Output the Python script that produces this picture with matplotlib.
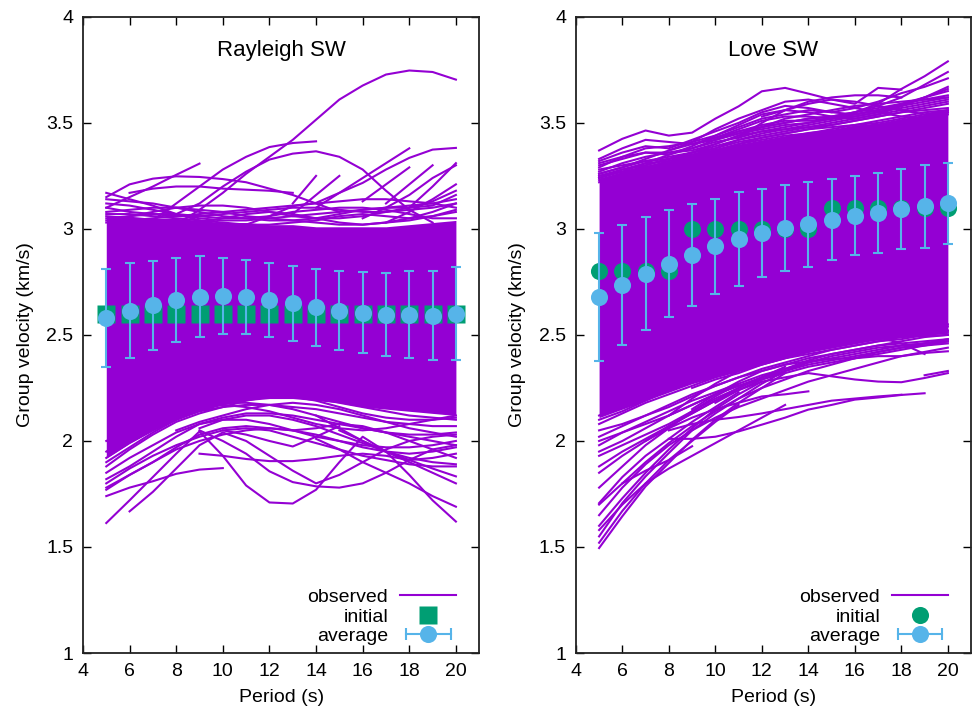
import numpy as np
import matplotlib
matplotlib.use("Agg")
import matplotlib.pyplot as plt
from matplotlib.lines import Line2D
from matplotlib.legend_handler import HandlerLine2D, HandlerTuple
from matplotlib.ticker import FormatStrFormatter

plt.rcParams['font.family'] = ['Liberation Sans', 'DejaVu Sans']
plt.rcParams['font.size'] = 14

PURPLE = '#9400D3'
GREEN = '#009E73'
BLUE = '#56B4E9'

periods = [5, 6, 7, 8, 9, 10, 11, 12, 13, 14, 15, 16, 17, 18, 19, 20]
N = None

# ---- Rayleigh ----
rayleigh_initial = [2.6, 2.6, 2.6, 2.6, 2.6, 2.6, 2.6, 2.6, 2.6, 2.6, 2.6, 2.6, 2.6, 2.6, 2.6, 2.6]
rayleigh_average = [2.58, 2.615, 2.64, 2.665, 2.68, 2.685, 2.68, 2.665, 2.65, 2.63, 2.615, 2.605, 2.595, 2.595, 2.59, 2.60]
rayleigh_std = [0.23, 0.225, 0.21, 0.20, 0.19, 0.18, 0.175, 0.175, 0.177, 0.18, 0.185, 0.19, 0.195, 0.205, 0.21, 0.22]
# the dense core of the observed curves (envelope)
rayleigh_core_high = [3.06, 3.06, 3.05, 3.05, 3.04, 3.03, 3.03, 3.02, 3.02, 3.01, 3.01, 3.01, 3.01, 3.02, 3.03, 3.04]
rayleigh_core_low = [1.92, 1.99, 2.05, 2.10, 2.14, 2.17, 2.19, 2.20, 2.20, 2.19, 2.18, 2.16, 2.15, 2.14, 2.13, 2.12]
# individual observed curves outside the core
rayleigh_curves = [
    [N, N, N, 3.02, 3.09, 3.17, 3.26, 3.34, 3.42, 3.515, 3.61, 3.676, 3.728, 3.747, 3.74, 3.704],
    [N, N, 3.04, 3.12, 3.20, 3.28, 3.34, 3.386, 3.405, 3.413, N, N, N, N, N, N],
    [N, N, N, 3.07, 3.12, 3.20, 3.27, 3.327, 3.355, 3.366, 3.34, 3.28, 3.18, 3.09, 3.03, N],
    [N, N, N, N, N, N, 3.02, 3.06, 3.107, 3.123, 3.17, 3.217, 3.28, 3.335, 3.374, 3.382],
    [3.15, 3.21, 3.237, 3.248, 3.245, 3.235, 3.22, 3.19, 3.16, 3.12, 3.08, N, N, N, N, N],
    [3.10, 3.15, 3.20, 3.255, 3.308, N, N, N, N, N, N, N, N, N, N, N],
    [N, 3.17, 3.19, 3.20, 3.20, 3.19, 3.185, 3.18, 3.17, N, N, N, N, N, N, N],
    [3.17, 3.14, 3.11, 3.07, 3.04, N, N, N, N, N, N, N, N, N, N, N],
    [N, N, N, N, N, N, N, N, N, 3.10, 3.17, 3.24, 3.31, 3.38, N, N],
    [N, N, N, N, N, N, N, N, 3.12, 3.25, N, N, N, N, N, N],
    [N, N, N, N, N, N, N, N, 3.07, 3.16, 3.25, N, N, N, N, N],
    [N, N, N, N, N, N, N, N, N, N, N, 3.13, 3.21, 3.29, N, N],
    [N, N, N, N, N, N, N, N, N, N, N, N, 3.12, 3.21, 3.30, N],
    [N, N, N, N, N, N, N, N, N, N, N, N, N, 3.10, 3.20, 3.31],
    [N, N, N, N, N, N, N, N, N, N, N, 3.05, 3.10, 3.16, 3.24, 3.30],
    [N, N, N, N, N, N, N, N, N, N, N, N, 3.03, 3.08, 3.14, 3.21],
    [3.10, 3.08, 3.07, 3.06, 3.06, 3.07, 3.08, 3.09, 3.10, 3.10, 3.09, 3.08, 3.08, 3.09, 3.10, 3.12],
    [3.08, 3.09, 3.10, 3.10, 3.09, 3.08, 3.06, 3.05, 3.04, 3.05, 3.07, 3.09, 3.10, 3.11, 3.12, 3.14],
    [3.12, 3.11, 3.09, 3.07, 3.05, 3.04, 3.04, 3.05, 3.06, 3.07, 3.08, 3.09, 3.10, 3.10, 3.11, 3.16],
    [3.05, 3.06, 3.08, 3.10, 3.11, 3.11, 3.10, 3.08, 3.06, 3.05, 3.05, 3.06, 3.08, 3.10, 3.13, 3.18],
    [3.03, 3.04, 3.05, 3.06, 3.07, 3.08, 3.09, 3.10, 3.11, 3.12, 3.13, 3.14, 3.14, 3.13, 3.12, 3.10],
    [3.06, 3.05, 3.03, 3.02, 3.03, 3.05, 3.07, 3.08, 3.07, 3.05, 3.03, 3.02, 3.03, 3.05, 3.08, 3.12],
    [3.07, 3.07, 3.06, 3.05, 3.04, 3.03, 3.02, 3.02, 3.03, 3.04, 3.06, 3.07, 3.06, 3.05, 3.06, 3.08],
    [3.04, 3.06, 3.07, 3.07, 3.06, 3.05, 3.05, 3.06, 3.08, 3.09, 3.10, 3.10, 3.09, 3.07, 3.05, 3.05],
    [3.14, 3.13, 3.12, 3.10, 3.08, 3.06, 3.05, 3.04, 3.04, 3.03, 3.02, 3.02, 3.03, 3.04, 3.06, 3.09],
    # lower side
    [1.613, 1.72, 1.83, 1.94, 2.045, 1.93, 1.79, 1.71, 1.705, 1.77, 1.90, 2.02, 1.95, 1.84, 1.72, 1.62],
    [N, 1.668, 1.76, 1.87, 1.98, 2.04, 2.0, 1.93, 1.86, 1.80, 1.84, 1.90, 1.96, 2.0, 2.02, 2.03],
    [1.74, 1.78, 1.81, 1.845, 1.865, 1.872, N, N, N, N, N, N, N, N, N, N],
    [N, N, N, N, 1.94, 1.93, 1.915, 1.905, 1.905, 1.915, 1.93, 1.94, 1.93, 1.91, 1.92, 1.94],
    [N, N, N, N, 2.05, 2.0, 1.94, 1.857, 1.806, 1.786, 1.78, 1.80, 1.85, 1.91, 1.96, 1.98],
    [N, N, N, N, N, N, N, N, N, 2.01, 1.96, 1.90, 1.85, 1.80, 1.74, 1.69],
    [N, N, N, N, N, N, N, N, N, N, 2.05, 2.0, 1.95, 1.90, 1.85, 1.80],
    [N, N, N, N, N, 2.05, 2.03, 2.0, 1.974, 2.02, 2.07, N, N, N, N, N],
    [N, N, N, N, N, N, N, N, N, 2.12, 2.06, 2.0, 1.95, 1.91, 1.87, 1.833],
    [1.80, 1.87, 1.93, 1.98, 2.02, 2.05, 2.06, 2.05, 2.02, 1.99, 1.96, 1.93, 1.91, 1.89, 1.88, 1.88],
    [1.77, 1.84, 1.90, 1.96, 2.0, 2.03, 2.05, 2.06, 2.05, 2.03, 2.0, 1.97, 1.95, 1.94, 1.95, 1.97],
    [2.0, 2.05, 2.10, 2.14, 2.17, 2.18, 2.18, 2.17, 2.15, 2.12, 2.09, 2.06, 2.04, 2.03, 2.03, 2.04],
    [1.95, 2.02, 2.08, 2.13, 2.16, 2.17, 2.16, 2.14, 2.11, 2.08, 2.06, 2.05, 2.06, 2.08, 2.10, 2.11],
    [1.85, 1.92, 1.98, 2.04, 2.08, 2.11, 2.13, 2.13, 2.12, 2.10, 2.08, 2.06, 2.04, 2.02, 2.0, 1.98],
    [1.82, 1.88, 1.95, 2.02, 2.08, 2.10, 2.10, 2.08, 2.05, 2.02, 2.0, 1.98, 1.97, 1.97, 1.98, 2.0],
    [1.78, 1.84, 1.90, 1.97, 2.03, 2.06, 2.07, 2.06, 2.05, 2.06, 2.08, 2.07, 2.04, 2.0, 1.96, 1.92],
    [N, N, N, N, 2.06, 2.10, 2.12, 2.12, 2.10, 2.07, 2.03, 1.99, 1.95, 1.92, 1.90, 1.89],
    [1.92, 1.99, 2.05, 2.10, 2.14, 2.16, 2.17, 2.17, 2.16, 2.15, 2.13, 2.11, 2.09, 2.08, 2.07, 2.07],
    [1.88, 1.96, 2.03, 2.09, 2.13, 2.16, 2.19, 2.21, 2.21, 2.20, 2.18, 2.16, 2.14, 2.12, 2.11, 2.10],
    [1.90, 1.97, 2.04, 2.10, 2.15, 2.19, 2.21, 2.22, 2.21, 2.19, 2.16, 2.13, 2.11, 2.10, 2.10, 2.12],
    [N, N, N, 2.05, 2.09, 2.12, 2.15, 2.17, 2.18, 2.17, 2.15, 2.12, 2.09, 2.06, 2.04, 2.02],
]

# ---- Love ----
love_initial = [2.8, 2.8, 2.8, 2.8, 3.0, 3.0, 3.0, 3.0, 3.0, 3.0, 3.1, 3.1, 3.1, 3.1, 3.1, 3.1]
love_average = [2.679, 2.737, 2.789, 2.836, 2.877, 2.918, 2.953, 2.981, 3.003, 3.022, 3.044, 3.063, 3.075, 3.095, 3.106, 3.121]
love_std = [0.30, 0.283, 0.268, 0.252, 0.241, 0.224, 0.22, 0.209, 0.203, 0.20, 0.189, 0.186, 0.19, 0.188, 0.194, 0.19]
love_core_high = [3.24, 3.27, 3.30, 3.32, 3.35, 3.38, 3.40, 3.42, 3.44, 3.46, 3.47, 3.49, 3.50, 3.52, 3.54, 3.56]
love_core_low = [2.11, 2.15, 2.19, 2.23, 2.27, 2.30, 2.33, 2.36, 2.39, 2.42, 2.44, 2.46, 2.48, 2.49, 2.50, 2.51]
love_curves = [
    [3.37, 3.425, 3.464, 3.44, 3.454, 3.52, 3.578, 3.649, 3.665, 3.638, 3.61, 3.59, 3.665, 3.657, N, N],
    [N, N, N, N, 3.40, 3.43, 3.46, 3.48, 3.50, 3.52, 3.53, 3.55, 3.59, 3.66, 3.72, 3.79],
    [N, N, N, N, N, 3.42, 3.45, 3.47, 3.49, 3.50, 3.52, 3.55, 3.58, 3.62, 3.68, 3.74],
    [3.32, 3.36, 3.39, 3.38, 3.42, 3.46, 3.50, 3.55, 3.58, 3.57, 3.55, 3.57, 3.60, 3.64, 3.67, 3.71],
    [3.30, 3.33, 3.36, 3.35, 3.39, 3.44, 3.48, 3.52, 3.54, 3.56, 3.55, 3.54, 3.56, 3.59, 3.62, 3.66],
    [3.27, 3.31, 3.34, 3.36, 3.37, 3.40, 3.44, 3.48, 3.50, 3.52, 3.53, 3.55, 3.57, 3.59, 3.61, 3.63],
    [3.26, 3.29, 3.32, 3.34, 3.36, 3.38, 3.42, 3.45, 3.47, 3.49, 3.51, 3.53, 3.55, 3.57, 3.59, 3.61],
    [3.25, 3.28, 3.30, 3.33, 3.35, 3.37, 3.40, 3.43, 3.45, 3.47, 3.49, 3.51, 3.53, 3.55, 3.57, 3.59],
    [3.29, 3.34, 3.38, 3.39, 3.41, 3.44, 3.49, 3.54, 3.56, 3.59, 3.61, 3.60, 3.58, 3.56, 3.54, 3.56],
    [N, N, N, N, N, N, N, 3.53, 3.56, 3.60, 3.62, 3.63, 3.63, 3.62, N, N],
    [N, N, N, 3.37, 3.41, 3.47, 3.52, 3.56, 3.60, 3.61, 3.59, 3.57, 3.55, 3.53, 3.52, 3.55],
    [3.24, 3.27, 3.31, 3.35, 3.38, 3.41, 3.43, 3.46, 3.48, 3.50, 3.52, 3.54, 3.56, 3.58, 3.62, 3.67],
    [3.23, 3.26, 3.30, 3.33, 3.36, 3.39, 3.42, 3.44, 3.46, 3.48, 3.49, 3.51, 3.53, 3.55, 3.56, 3.57],
    [3.24, 3.28, 3.31, 3.32, 3.35, 3.38, 3.41, 3.43, 3.45, 3.47, 3.48, 3.49, 3.51, 3.53, 3.55, 3.56],
    [3.25, 3.27, 3.29, 3.31, 3.34, 3.37, 3.40, 3.42, 3.44, 3.45, 3.47, 3.49, 3.50, 3.52, 3.54, 3.55],
    [3.28, 3.30, 3.32, 3.33, 3.36, 3.40, 3.44, 3.46, 3.47, 3.48, 3.50, 3.52, 3.54, 3.56, 3.58, 3.60],
    [3.31, 3.34, 3.36, 3.36, 3.38, 3.42, 3.46, 3.49, 3.51, 3.51, 3.52, 3.54, 3.56, 3.58, 3.60, 3.62],
    [3.33, 3.38, 3.42, 3.41, 3.40, 3.43, 3.47, 3.51, 3.53, 3.53, 3.52, 3.53, 3.55, 3.58, 3.62, 3.65],
    [N, N, N, N, N, N, 3.43, 3.50, 3.56, 3.55, 3.53, 3.52, 3.54, 3.58, N, N],
    [3.26, 3.29, 3.33, 3.37, 3.40, 3.42, 3.45, 3.48, 3.52, 3.54, 3.56, 3.58, 3.59, 3.60, 3.61, 3.62],
    [3.22, 3.26, 3.29, 3.32, 3.34, 3.36, 3.38, 3.40, 3.42, 3.44, 3.46, 3.47, 3.49, 3.51, 3.53, 3.54],
    # lower side
    [1.495, 1.645, 1.786, 1.896, 2.006, 2.10, 2.18, 2.25, 2.32, N, N, N, N, N, N, N],
    [1.55, 1.707, 1.833, 1.943, 2.05, 2.13, 2.20, 2.27, 2.33, N, N, N, N, N, N, N],
    [1.60, 1.73, 1.85, 1.96, 2.06, 2.15, 2.22, 2.28, N, N, N, N, N, N, N, N],
    [1.707, 1.83, 1.93, 2.01, 2.09, 2.16, 2.23, N, N, N, N, N, N, N, N, N],
    [1.52, 1.67, 1.80, 1.91, 2.0, 2.09, 2.17, N, N, N, N, N, N, N, N, N],
    [1.58, 1.70, 1.80, 1.87, 1.93, 1.99, 2.05, 2.11, 2.17, N, N, N, N, N, N, N],
    [N, N, N, 2.01, 2.01, 2.02, 2.045, 2.077, 2.11, 2.148, 2.17, 2.195, 2.205, 2.217, 2.225, N],
    [N, N, N, 2.05, 2.08, 2.10, 2.113, 2.13, 2.15, 2.17, 2.19, 2.20, 2.21, 2.218, N, N],
    [N, N, N, N, N, 2.18, 2.24, 2.28, 2.30, 2.32, 2.305, 2.29, 2.28, 2.277, 2.297, 2.32],
    [N, N, N, N, N, N, N, N, N, N, N, N, N, N, 2.31, 2.33],
    [N, N, N, N, 2.15, 2.22, 2.28, 2.33, 2.36, 2.376, 2.387, 2.39, 2.40, 2.40, 2.415, 2.423],
    [N, N, N, 2.12, 2.20, 2.27, 2.33, 2.38, 2.42, 2.45, 2.46, 2.47, 2.48, 2.49, 2.495, 2.50],
    [N, N, 2.00, 2.06, 2.11, 2.15, 2.18, 2.21, 2.22, 2.234, N, N, N, N, N, N],
    [N, 1.80, 1.86, 1.91, 1.975, N, N, N, N, N, N, N, N, N, N, N],
    [1.78, 1.88, 1.98, 2.06, 2.14, 2.21, 2.27, N, N, N, N, N, N, N, N, N],
    [1.85, 1.93, 2.0, 2.07, 2.13, 2.19, 2.25, 2.30, 2.35, N, N, N, N, N, N, N],
    [1.88, 1.95, 2.01, 2.07, 2.13, 2.19, 2.24, 2.29, 2.33, 2.37, 2.40, 2.42, 2.44, 2.45, 2.46, 2.47],
    [1.93, 1.98, 2.03, 2.08, 2.14, 2.20, 2.25, 2.30, 2.34, 2.38, 2.41, 2.43, 2.45, 2.46, 2.47, 2.48],
    [2.0, 2.04, 2.08, 2.12, 2.17, 2.22, 2.26, 2.30, 2.33, 2.36, 2.38, 2.40, 2.42, 2.44, 2.45, 2.46],
    [2.05, 2.08, 2.12, 2.16, 2.21, 2.26, 2.30, 2.34, 2.37, 2.40, 2.43, 2.45, 2.47, 2.49, 2.51, 2.52],
    [1.65, 1.78, 1.89, 1.98, 2.05, 2.11, 2.16, 2.20, 2.24, 2.28, 2.31, 2.34, 2.37, 2.40, 2.42, 2.44],
    [1.70, 1.80, 1.90, 1.99, 2.07, 2.14, 2.20, 2.25, 2.29, 2.33, 2.36, 2.39, 2.42, 2.44, 2.46, 2.47],
    [N, N, N, N, N, N, N, N, N, N, N, 2.52, 2.49, 2.46, 2.41, N],
    [2.10, 2.14, 2.19, 2.24, 2.28, 2.32, 2.35, 2.38, 2.40, 2.42, 2.44, 2.46, 2.48, 2.50, 2.51, 2.52],
    [2.08, 2.13, 2.18, 2.22, 2.26, 2.30, 2.33, 2.36, 2.39, 2.41, 2.43, 2.45, 2.47, 2.48, 2.50, 2.51],
    [2.12, 2.17, 2.22, 2.27, 2.31, 2.35, 2.38, 2.41, 2.44, 2.46, 2.48, 2.50, 2.52, 2.53, 2.54, 2.55],
    [N, N, N, N, 2.25, 2.29, 2.32, 2.36, 2.39, 2.42, 2.45, 2.47, 2.49, 2.51, 2.53, 2.54],
    [2.02, 2.07, 2.12, 2.17, 2.22, 2.26, 2.30, 2.33, 2.36, 2.39, 2.41, 2.43, 2.45, 2.47, 2.49, 2.50],
    [1.98, 2.04, 2.09, 2.14, 2.19, 2.23, 2.27, 2.31, 2.34, 2.37, 2.39, 2.41, 2.43, 2.45, 2.46, 2.48],
    [1.95, 2.00, 2.06, 2.12, 2.17, 2.22, 2.26, 2.29, 2.32, 2.35, 2.37, 2.39, 2.41, 2.43, 2.45, 2.47],
]


def to_array(values):
    return np.array([np.nan if v is None else v for v in values], dtype=float)


def draw_panel(ax, title, core_low, core_high, curves, initial, init_marker, init_size,
               average, std):
    x = np.array(periods)
    ax.fill_between(x, core_low, core_high, color=PURPLE, lw=0, zorder=1)
    for c in curves:
        ax.plot(x, to_array(c), color=PURPLE, lw=1.5, zorder=1)
    ax.plot(x, initial, ls='none', marker=init_marker, ms=init_size,
            color=GREEN, mec='none', zorder=2)
    ax.errorbar(x, average, yerr=std, fmt='o', ms=12.3, color=BLUE, mec='none',
                ecolor=BLUE, elinewidth=1.5, capsize=3.5, capthick=1.5, zorder=3)

    ax.set_xlim(4, 21)
    ax.set_ylim(1, 4)
    ax.set_xticks([4, 6, 8, 10, 12, 14, 16, 18, 20])
    ax.set_yticks([1, 1.5, 2, 2.5, 3, 3.5, 4])
    ax.yaxis.set_major_formatter(FormatStrFormatter('%g'))
    ax.tick_params(direction='in', top=True, right=True, length=6, width=1,
                   labelsize=14, pad=7)
    for s in ax.spines.values():
        s.set_linewidth(1.3)
        s.set_color('#222222')
    ax.set_xlabel('Period (s)', labelpad=7)
    ax.set_ylabel('Group velocity (km/s)', labelpad=9)
    ax.text(0.5, 0.947, title, transform=ax.transAxes, ha='center', va='center',
            fontsize=16)

    h_obs = Line2D([], [], color=PURPLE, lw=1.5)
    h_init = Line2D([], [], ls='none', marker=init_marker, ms=init_size, color=GREEN, mec='none')
    h_bar = Line2D([], [], color=BLUE, lw=1.5, marker='|', ms=8, mew=1.5)
    h_dot = Line2D([], [], ls='none', marker='o', ms=12.3, color=BLUE, mec='none')
    ax.legend([h_obs, h_init, (h_bar, h_dot)], ['observed', 'initial', 'average'],
              loc='lower right', bbox_to_anchor=(0.962, 0.0), frameon=False,
              markerfirst=False, handlelength=2.9, handletextpad=0.6,
              labelspacing=0.1, borderaxespad=0.0, borderpad=0.4, fontsize=14,
              handler_map={h_bar: HandlerLine2D(numpoints=2),
                           tuple: HandlerTuple(ndivide=1)})


fig = plt.figure(figsize=(9.76, 7.14), dpi=100)
ax1 = fig.add_axes([0.085, 0.0854, 0.406, 0.891])
ax2 = fig.add_axes([0.590, 0.0854, 0.405, 0.891])

draw_panel(ax1, 'Rayleigh SW', rayleigh_core_low, rayleigh_core_high, rayleigh_curves,
           rayleigh_initial, 's', 12.7, rayleigh_average, rayleigh_std)
draw_panel(ax2, 'Love SW', love_core_low, love_core_high, love_curves,
           love_initial, 'o', 12.3, love_average, love_std)

fig.savefig('out.png', dpi=100)
